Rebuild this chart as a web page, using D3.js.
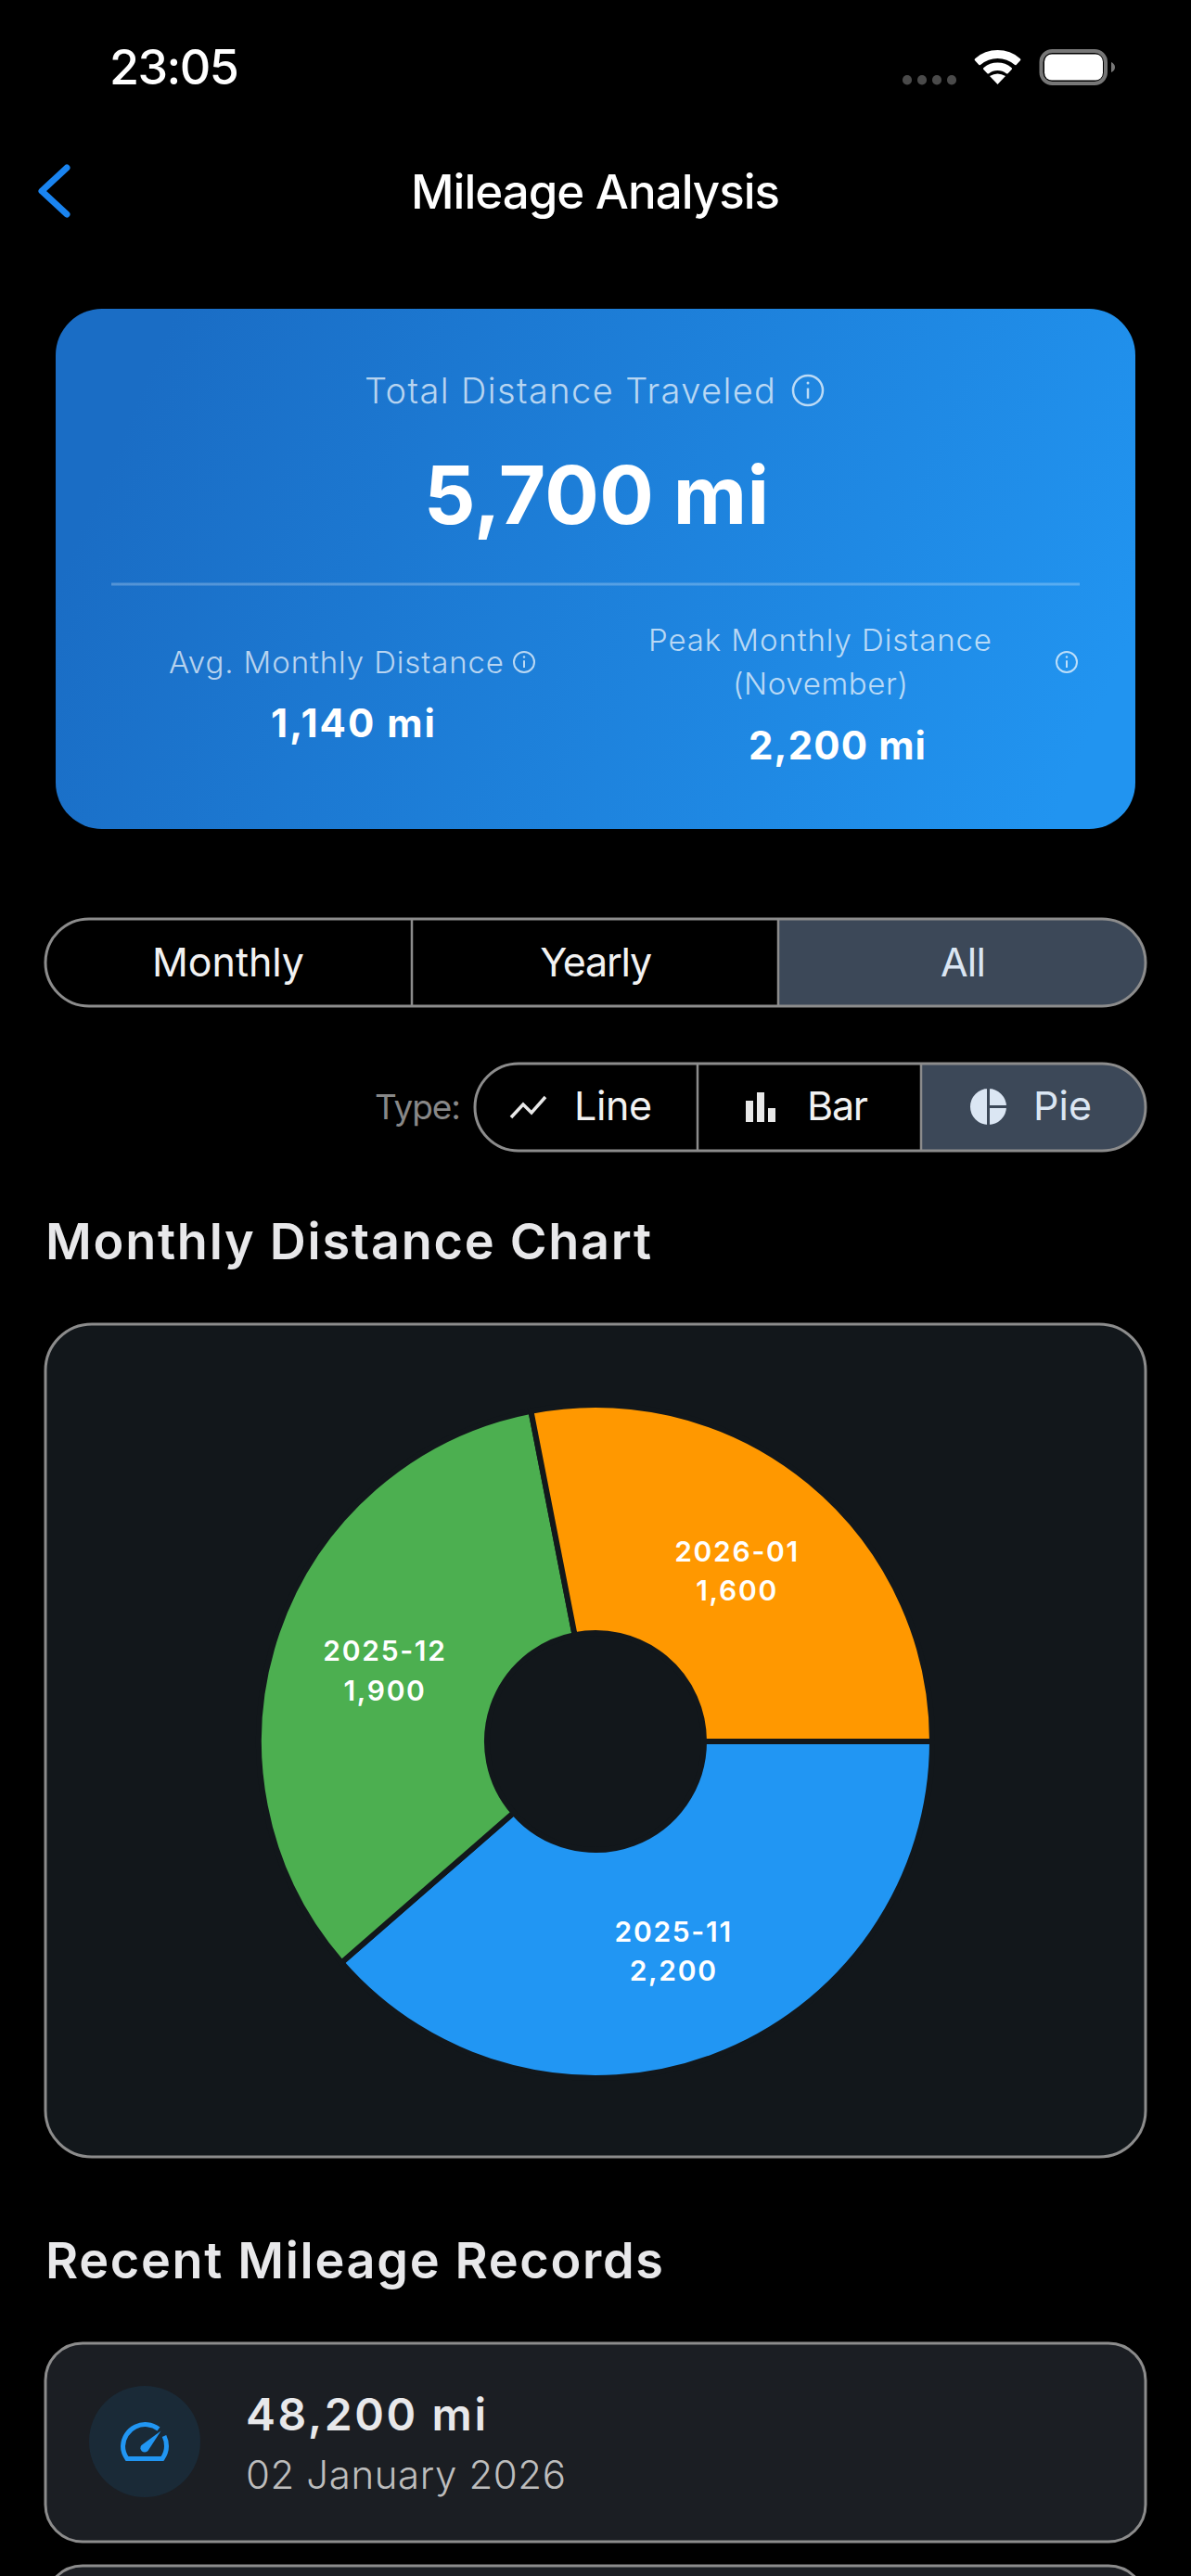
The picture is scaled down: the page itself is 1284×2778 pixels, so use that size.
<!DOCTYPE html>
<html><head><meta charset="utf-8">
<script src="https://cdn.jsdelivr.net/npm/d3@7"></script>
<style>html,body{margin:0;background:#000;overflow:hidden}svg{display:block}text{font-family:Inter,"Noto Sans",sans-serif}</style>
</head><body><div id="c"></div>
<script>
const months=["2025-11","2025-12","2026-01"];
const distances=[2200,1900,1600];
const sliceColors=["#2196F3","#4CAF50","#FF9800"];
const rangeTabs=["Monthly","Yearly","All"];
const typeTabs=["Line","Bar","Pie"];

const W=1284,H=2778;
const svg=d3.select("#c").append("svg").attr("width",W).attr("height",H).attr("viewBox",[0,0,W,H]);
const defs=svg.append("defs");
const grad=defs.append("linearGradient").attr("id","g").attr("gradientUnits","userSpaceOnUse").attr("x1",160).attr("y1",400).attr("x2",1160).attr("y2",830);
grad.append("stop").attr("offset",0).attr("stop-color","#1A6DC5");
grad.append("stop").attr("offset",1).attr("stop-color","#2194F0");

function T(x,y,s,o={}){
  const t=svg.append("text").attr("x",x).attr("y",y).text(s)
    .attr("font-size",o.size||30).attr("font-weight",o.w||400).attr("fill",o.fill||"#fff")
    .attr("text-anchor",o.a||"start");
  if(o.width){
    const len=t.node().getComputedTextLength();
    t.style("letter-spacing",((o.width-len)/(s.length-1))+"px");
  }
  return t;
}
function R(x,y,w,h,r,fill,stroke,sw=3){
  return svg.append("rect").attr("x",x).attr("y",y).attr("width",w).attr("height",h).attr("rx",r)
    .attr("fill",fill).attr("stroke",stroke||"none").attr("stroke-width",sw);
}
function info(cx,cy,r,sw,col){
  svg.append("circle").attr("cx",cx).attr("cy",cy).attr("r",r).attr("fill","none").attr("stroke",col).attr("stroke-width",sw);
  svg.append("line").attr("x1",cx).attr("x2",cx).attr("y1",cy-r*0.15).attr("y2",cy+r*0.55).attr("stroke",col).attr("stroke-width",sw);
  svg.append("circle").attr("cx",cx).attr("cy",cy-r*0.5).attr("r",sw*0.6).attr("fill",col);
}
const fmt=d3.format(",");
const total=d3.sum(distances), peak=d3.max(distances);

// status bar
T(118,91,"23:05",{size:52,w:500,width:140});
[973,989,1005,1021].forEach(x=>R(x,81,10,10.5,5,"#4A4A4A"));
const wifi=svg.append("g").attr("transform","translate(1075.5,91)");
[[37,28],[23.5,15]].forEach(([ro,ri])=>{
  wifi.append("path").attr("fill","#fff").attr("d",d3.arc().cornerRadius(1.5)({innerRadius:ri,outerRadius:ro,startAngle:-0.76,endAngle:0.76}));
});
wifi.append("path").attr("fill","#fff").attr("d","M0 0L-8.5 -9Q0 -14 8.5 -9Z");
R(1122.5,55,69.5,35,12,"none","#777",4);
R(1126,58.5,63,28,8,"#fff");
svg.append("path").attr("fill","#777").attr("d","M1198 67Q1202 69 1202 72.5Q1202 76 1198 78Z");

// nav
svg.append("path").attr("d","M72 181L45 206L72 231").attr("fill","none").attr("stroke","#1A84F0").attr("stroke-width",7).attr("stroke-linecap","round").attr("stroke-linejoin","round");
T(443,225,"Mileage Analysis",{size:51,w:500,width:398});

// summary card
R(60,333,1164,561,50,"url(#g)");
const soft="rgba(255,255,255,0.7)";
T(393,435,"Total Distance Traveled",{size:38,w:300,fill:soft,width:443});
info(871,421,16,2.5,soft);
T(457,565,fmt(total)+" mi",{size:87,w:700,width:372});
svg.append("line").attr("x1",120).attr("x2",1164).attr("y1",630).attr("y2",630).attr("stroke","rgba(255,255,255,0.25)").attr("stroke-width",3);
T(182,726,"Avg. Monthly Distance",{size:33,w:300,fill:soft,width:361});
info(565,714,11,2,soft);
T(292,795,fmt(1140)+" mi",{size:42,w:700,width:177});
T(699,702,"Peak Monthly Distance",{size:33,w:300,fill:soft,width:370});
T(790,749,"(November)",{size:33,w:300,fill:soft,width:189});
info(1150,714,11,2,soft);
T(807,819,fmt(peak)+" mi",{size:42,w:700,width:191});

// segmented controls
function seg(x0,y0,x1,y1,divs,activeX){
  const h=y1-y0,r=h/2;
  svg.append("path").attr("fill","#3C4858").attr("d",`M${activeX} ${y0}H${x1-r}A${r} ${r} 0 0 1 ${x1-r} ${y1}H${activeX}Z`);
  R(x0,y0,x1-x0,h,r,"none","#8C8C8C",3);
  divs.forEach(d=>svg.append("line").attr("x1",d).attr("x2",d).attr("y1",y0).attr("y2",y1).attr("stroke","#8C8C8C").attr("stroke-width",2.5));
}
seg(49,991,1235,1085,[444,839],839);
[164,121,49].forEach((wd,i)=>T([246,642,1038][i],1053,rangeTabs[i],{size:43,w:400,a:"middle",fill:i==2?"#dbe6f3":"#f2f2f2",width:wd}));
T(404,1207,"Type:",{size:37,w:400,fill:"#888",width:93});
seg(512,1147,1235,1241,[752,993],993);
T(619,1208,typeTabs[0],{size:43,width:84,fill:"#f2f2f2"});
T(870,1208,typeTabs[1],{size:43,width:66,fill:"#f2f2f2"});
T(1114,1208,typeTabs[2],{size:43,width:63,fill:"#dbe6f3"});
svg.append("path").attr("d","M551 1205L564 1191L573 1200L588 1183").attr("fill","none").attr("stroke","#e8e8e8").attr("stroke-width",3.5);
[[804,1187],[816,1178],[828,1195]].forEach(([x,y])=>svg.append("rect").attr("x",x).attr("y",y).attr("width",8).attr("height",1210-y).attr("fill","#e8e8e8"));
const pieIcon=svg.append("g").attr("transform","translate(1065.5,1193.5)");
[[-Math.PI,0],[0,Math.PI/2],[Math.PI/2,Math.PI]].forEach(([a,b])=>pieIcon.append("path").attr("fill","#dbe6f3")
  .attr("d",d3.arc()({innerRadius:0,outerRadius:21,startAngle:a,endAngle:b})).attr("stroke","#3C4858").attr("stroke-width",3));

// chart
T(49,1358,"Monthly Distance Chart",{size:54,w:600,fill:"#e8e8ea",width:653});
R(49,1428,1186,898,50,"#12171B","#8C8C8C",3);
const cx=642,cy=1878;
const pie=d3.pie().sort(null).startAngle(Math.PI/2).endAngle(Math.PI/2+2*Math.PI);
const arc=d3.arc().innerRadius(117).outerRadius(363);
const g=svg.append("g").attr("transform",`translate(${cx},${cy})`);
const arcs=pie(distances);
g.selectAll("path").data(arcs).join("path").attr("d",arc).attr("fill",(d,i)=>sliceColors[i]).attr("stroke","#12171B").attr("stroke-width",6);
const lab=g.selectAll("g.l").data(arcs).join("g").attr("class","l").attr("transform",d=>`translate(${arc.centroid(d)})`);
lab.append("text").attr("text-anchor","middle").attr("y",-9).attr("font-size",30).attr("font-weight",600).attr("fill","#fff").style("letter-spacing","1.7px").text((d,i)=>months[i]);
lab.append("text").attr("text-anchor","middle").attr("y",33.5).attr("font-size",30).attr("font-weight",600).attr("fill","#fff").style("letter-spacing","1.7px").text(d=>fmt(d.data));

// records
T(49,2457,"Recent Mileage Records",{size:54,w:600,fill:"#e8e8ea",width:666});
R(49,2527,1186,214,40,"#1B1E23","#8C8C8C",3);
svg.append("circle").attr("cx",156).attr("cy",2633).attr("r",60).attr("fill","#1A2A37");
const gauge=svg.append("g").attr("transform","translate(156,2638)");
gauge.append("path").attr("d","M15 -18.5A24 24 0 0 0 -23.5 0Q-23.5 7 -19 13.5H19Q23.5 7 23.5 0Q23.5 -6 21 -11").attr("fill","none").attr("stroke","#2196F3").attr("stroke-width",5);
gauge.append("path").attr("d","M17.5 -16.5L3.5 5A4.5 4.5 0 0 1 -3.5 -1Z").attr("fill","#2196F3");
T(265,2621,"48,200 mi",{size:48,w:600,fill:"#e8e8ea",width:259});
T(265,2684,"02 January 2026",{size:42,w:300,fill:"#bdbdbd",width:345});
R(49,2767,1186,120,40,"#1B1E23","#8C8C8C",3);
</script></body></html>
